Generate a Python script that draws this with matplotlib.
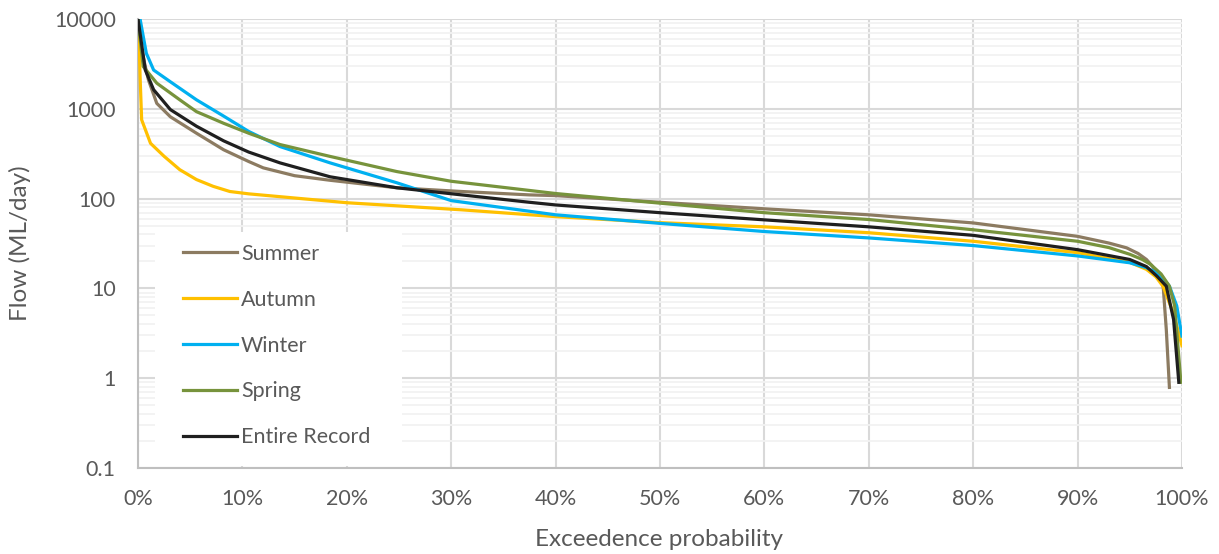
import numpy as np
import matplotlib
matplotlib.use("Agg")
import matplotlib.pyplot as plt
from matplotlib.ticker import LogLocator, FuncFormatter, MultipleLocator, NullFormatter
from matplotlib.patches import Rectangle

plt.rcParams["font.family"] = ["Lato", "DejaVu Sans"]

# exceedence probability (%) and flow (ML/day)
summer_x = [0, 0.2, 0.7, 1.0, 1.8, 3.1, 5.6, 8.2, 10.6, 12, 15, 18.4, 24.8, 31, 37.5, 40, 50, 60, 70, 80, 90, 93, 94.7, 95.8, 96.6, 97.2, 97.7, 98.2, 98.5, 98.8]
summer_y = [10000, 5500, 2960, 2100, 1150, 815, 535, 350, 259, 220, 180, 160, 132, 120, 110, 108, 91, 77, 66, 53.6, 38, 32, 28.3, 24.5, 21, 17.5, 14, 10.6, 3.5, 0.79]

autumn_x = [0, 0.1, 0.2, 0.35, 1.2, 2.5, 4, 5.6, 7.2, 8.8, 10.6, 20, 31, 40, 50, 60, 70, 80, 90, 95, 96.6, 97.5, 98.2, 99, 99.6, 100]
autumn_y = [7000, 5900, 2290, 755, 413, 296, 210, 163, 137, 120, 113, 90, 75, 63, 54, 48.5, 41.7, 33.5, 25, 19.5, 16.3, 13.5, 10.5, 6, 3.5, 2.3]

winter_x = [0.2, 0.8, 1.5, 3.1, 5.6, 8.2, 10.6, 13.6, 18.4, 24.8, 30, 40, 50, 60, 70, 80, 90, 95, 96.6, 97.6, 98.3, 98.8, 99.5, 100]
winter_y = [10000, 4150, 2700, 2000, 1260, 830, 560, 380, 250, 150, 95, 66, 53, 43, 36.5, 30, 23, 19.3, 17, 14.9, 12.5, 10.6, 6.4, 2.95]

spring_x = [0, 0.2, 0.5, 1.8, 4, 5.6, 8.2, 10.6, 13.6, 18.4, 24.8, 30, 40, 50, 60, 70, 80, 90, 93, 95, 96.2, 97, 98, 98.8, 99.3, 99.9]
spring_y = [10000, 6000, 2960, 1930, 1260, 930, 690, 535, 400, 295, 200, 156, 114, 89, 69.7, 58.5, 45, 33.5, 28.5, 24, 21, 18.5, 14.5, 10.6, 6.4, 0.9]

record_x = [0, 0.25, 0.7, 1.5, 3.1, 5.6, 8.2, 10.6, 13.6, 18.4, 24.8, 31, 37.5, 40, 50, 60, 70, 80, 90, 95, 96.6, 97.6, 98.5, 99.2, 99.7]
record_y = [10000, 6300, 2700, 1630, 980, 640, 440, 330, 250, 175, 132, 110, 91, 85, 69.7, 58, 48.5, 39, 27, 21, 17.5, 13.7, 10.6, 4.5, 0.9]

series = [
    ("Summer", summer_x, summer_y, "#8C7B61"),
    ("Autumn", autumn_x, autumn_y, "#FFC000"),
    ("Winter", winter_x, winter_y, "#00B0F0"),
    ("Spring", spring_x, spring_y, "#77933C"),
    ("Entire Record", record_x, record_y, "#1F1F1F"),
]

txt = "#595959"

fig = plt.figure(figsize=(12.19, 5.54), dpi=100)
ax = fig.add_axes([0.1132, 0.1552, 0.8564, 0.8105])

for name, xs, ys, col in series:
    ax.plot(xs, ys, color=col, lw=2.3, label=name, zorder=3)

ax.set_yscale("log")
ax.set_ylim(0.1, 10000)
ax.set_xlim(0, 100)

ax.xaxis.set_major_locator(MultipleLocator(10))
ax.xaxis.set_major_formatter(FuncFormatter(lambda v, p: f"{v:.0f}%"))
ax.yaxis.set_major_locator(LogLocator(base=10, numticks=10))
ax.yaxis.set_minor_locator(LogLocator(base=10, subs=range(2, 10), numticks=20))
ax.yaxis.set_major_formatter(FuncFormatter(lambda v, p: f"{v:g}"))
ax.yaxis.set_minor_formatter(NullFormatter())

ax.set_axisbelow(True)
ax.grid(True, which="major", color="#D9D9D9", lw=1.5)
ax.grid(True, which="minor", axis="y", color="#F2F2F2", lw=1.3)

for s in ["top", "right"]:
    ax.spines[s].set_visible(False)
for s in ["left", "bottom"]:
    ax.spines[s].set_color("#BFBFBF")
    ax.spines[s].set_linewidth(1.5)

ax.tick_params(axis="both", which="both", length=0, labelsize=15.5, labelcolor=txt)
ax.tick_params(axis="y", pad=16)
ax.tick_params(axis="x", pad=15)

ax.set_xlabel("Exceedence probability", fontsize=17.5, color=txt)
ax.set_ylabel("Flow (ML/day)", fontsize=17.5, color=txt)
ax.xaxis.set_label_coords(0.499, -0.16)
ax.xaxis.label.set_va("center")
ax.yaxis.set_label_coords(-0.113, 0.50)
ax.yaxis.label.set_va("center")

# white legend panel covering the gridlines
ax.add_patch(Rectangle((0.0163, 0.005), 0.237, 0.521, transform=ax.transAxes,
                       facecolor="white", edgecolor="none", zorder=1))
leg = ax.legend(loc="upper left", bbox_to_anchor=(0.043, 0.499), frameon=False,
                fontsize=15.5, labelcolor=txt, handlelength=2.5, handletextpad=0.2,
                labelspacing=1.2, borderpad=0, borderaxespad=0)
leg.set_zorder(4)

fig.savefig("out.png", dpi=100)
